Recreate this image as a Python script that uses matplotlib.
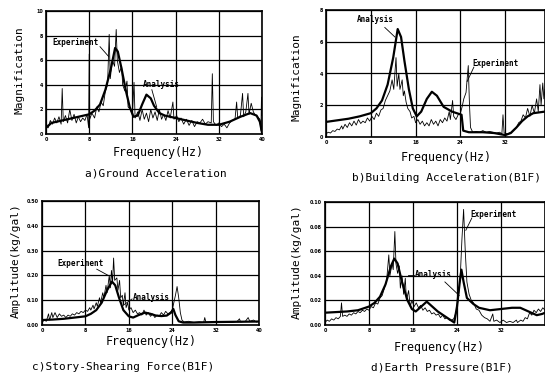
import numpy as np
import matplotlib
matplotlib.use('Agg')
import matplotlib.pyplot as plt

MONO = 'DejaVu Sans Mono'

# a) Ground Acceleration
a_exp_x = [0.0, 0.4, 0.8, 1.2, 1.6, 2.0, 2.4, 2.8, 3.0, 3.2, 3.6, 4.0, 4.4, 4.8, 5.2, 5.6, 6.0, 6.4, 6.8, 7.2,
           7.6, 7.9, 8.0, 8.1, 8.5, 9.0, 9.4, 9.8, 10.2, 10.6, 11.0, 11.4, 11.7, 11.9, 12.3, 12.7, 13.0, 13.2, 13.6, 14.0,
           14.2, 14.6, 15.0, 15.2, 15.6, 16.0, 16.3, 16.5, 17.0, 17.4, 17.8, 18.2, 18.6, 19.0, 19.4, 19.8, 20.2, 20.6, 21.0, 21.4,
           21.8, 22.2, 22.6, 23.0, 23.5, 23.7, 24.2, 24.6, 25.0, 25.5, 26.0, 26.5, 27.0, 27.5, 28.0, 28.5, 29.0, 29.5, 30.0, 30.6,
           30.8, 31.0, 31.5, 32.0, 32.5, 33.0, 33.5, 34.0, 34.5, 35.0, 35.3, 35.5, 36.0, 36.4, 36.6, 37.0, 37.4, 37.6, 38.0, 38.4,
           38.8, 39.2, 39.6, 39.8, 39.9, 40.0]
a_exp_y = [0.9, 0.5, 1.1, 0.8, 1.3, 0.9, 1.4, 0.8, 3.7, 1.0, 1.5, 0.9, 2.0, 1.1, 1.6, 0.9, 1.4, 1.0, 1.3, 1.1,
           1.6, 0.5, 6.5, 1.2, 1.7, 1.3, 2.2, 1.8, 2.6, 2.3, 3.5, 4.0, 8.1, 4.5, 6.0, 5.5, 8.5, 6.0, 5.0, 5.5,
           4.0, 3.5, 4.3, 2.2, 2.0, 1.6, 4.2, 1.3, 1.8, 1.1, 2.0, 1.2, 1.7, 1.0, 2.0, 1.3, 1.8, 1.1, 2.0, 1.2,
           1.6, 1.1, 1.9, 1.3, 2.6, 1.2, 1.5, 1.0, 1.3, 0.8, 1.2, 0.7, 1.1, 0.6, 1.0, 0.9, 1.2, 0.8, 1.0, 0.9,
           4.9, 1.0, 0.7, 0.9, 0.6, 0.8, 0.5, 0.9, 1.1, 1.2, 2.6, 1.3, 1.5, 3.3, 1.4, 1.8, 3.3, 1.6, 2.5, 1.8,
           1.5, 1.4, 1.2, 0.3, 3.0, 1.5]
a_ana_x = [0, 1, 2, 4, 6, 8, 9, 10, 11, 12, 12.8, 13.3, 14, 14.8, 15.5, 16.2, 17, 17.8, 18.6, 19.4,
           20, 21, 22, 24, 26, 28, 30, 32, 34, 36, 37.8, 39, 39.6, 40]
a_ana_y = [0.5, 0.9, 1.0, 1.2, 1.4, 1.6, 1.9, 2.4, 3.6, 5.3, 7.0, 6.7, 5.3, 3.5, 2.2, 1.4, 1.5, 2.4, 3.2, 2.9,
           2.3, 1.7, 1.5, 1.3, 1.1, 0.9, 0.75, 0.75, 1.0, 1.4, 1.7, 1.5, 1.0, 0.1]

# b) Building Acceleration (B1F)
b_exp_x = [0.0, 0.4, 0.8, 1.2, 1.6, 2.0, 2.4, 2.8, 3.0, 3.4, 3.8, 4.2, 4.6, 5.0, 5.4, 5.8, 6.2, 6.6, 7.0, 7.4,
           7.8, 8.2, 8.6, 9.0, 9.4, 9.8, 10.2, 10.6, 11.0, 11.4, 11.8, 12.1, 12.5, 12.7, 13.0, 13.2, 13.6, 13.8, 14.0, 14.3,
           14.6, 15.0, 15.3, 15.7, 16.0, 16.4, 16.8, 17.2, 17.6, 18.0, 18.4, 18.8, 19.2, 19.6, 20.0, 20.4, 20.8, 21.2, 21.6, 22.0,
           22.2, 22.6, 22.8, 23.2, 23.6, 24.0, 24.3, 24.6, 25.0, 25.4, 25.6, 25.8, 26.2, 26.8, 27.4, 28.0, 28.6, 29.2, 29.8, 30.4,
           31.0, 31.4, 31.6, 31.8, 32.4, 33.0, 33.6, 34.0, 34.4, 34.8, 35.2, 35.6, 36.0, 36.4, 36.8, 37.2, 37.6, 37.9, 38.2, 38.4,
           38.7, 38.9, 39.1]
b_exp_y = [0.2, 0.3, 0.25, 0.4, 0.35, 0.5, 0.45, 0.7, 0.5, 0.8, 0.6, 0.9, 0.7, 1.0, 0.75, 1.1, 0.85, 1.0, 0.9, 1.2,
           1.0, 1.3, 1.1, 1.5, 1.3, 1.7, 1.8, 2.3, 2.6, 2.9, 3.6, 3.0, 5.0, 3.2, 4.0, 3.0, 3.6, 2.6, 2.9, 2.2,
           1.8, 1.6, 1.2, 1.3, 0.9, 1.1, 0.8, 1.0, 0.7, 0.9, 0.7, 1.1, 0.8, 1.0, 0.7, 1.1, 0.9, 1.2, 1.0, 1.6,
           1.1, 2.3, 1.3, 1.1, 1.4, 1.5, 1.9, 2.4, 2.8, 4.5, 2.2, 0.6, 0.3, 0.35, 0.3, 0.4, 0.3, 0.35, 0.3, 0.25,
           0.3, 0.2, 1.4, 0.25, 0.2, 0.3, 0.5, 0.6, 0.9, 1.0, 1.4, 1.2, 1.8, 1.3, 2.0, 1.5, 2.4, 1.6, 3.3, 2.0,
           3.4, 2.4, 3.0]
b_ana_x = [0, 2, 4, 6, 8, 9, 10, 11, 12, 12.8, 13.4, 14, 14.8, 15.5, 16.2, 17, 18, 18.9, 19.8, 21,
           22.5, 24.2, 24.5, 25.5, 28, 30, 32, 33, 34, 35, 36, 37, 39.1]
b_ana_y = [0.95, 1.05, 1.15, 1.3, 1.5, 1.8, 2.3, 3.3, 5.0, 6.8, 6.3, 4.8, 3.0, 1.8, 1.3, 1.6, 2.4, 2.85, 2.6, 1.9,
           1.6, 1.4, 0.4, 0.3, 0.3, 0.25, 0.12, 0.25, 0.6, 1.0, 1.3, 1.5, 1.6]

# c) Story-Shearing Force (B1F)
c_exp_x = [0.0, 0.4, 0.8, 1.2, 1.4, 1.8, 2.0, 2.4, 2.8, 3.2, 3.6, 4.0, 4.4, 4.8, 5.2, 5.6, 6.0, 6.4, 6.8, 7.2,
           7.6, 8.0, 8.4, 8.8, 9.0, 9.4, 9.6, 10.0, 10.2, 10.6, 10.8, 11.2, 11.4, 11.8, 12.0, 12.4, 12.6, 12.8, 13.0, 13.2,
           13.4, 13.8, 14.0, 14.3, 14.5, 14.8, 15.0, 15.3, 15.5, 15.8, 16.0, 16.4, 16.8, 17.2, 17.6, 18.0, 18.4, 18.8, 19.2, 19.6,
           20.0, 20.4, 20.8, 21.2, 21.6, 22.0, 22.4, 22.8, 23.2, 23.6, 24.0, 24.3, 24.6, 24.9, 25.2, 25.5, 25.8, 26.2, 27.0, 28.0,
           29.0, 29.8, 30.0, 30.2, 31.0, 32.0, 33.0, 34.0, 35.0, 36.0, 36.4, 36.6, 37.5, 38.0, 38.3, 39.0, 39.5, 40.0]
c_exp_y = [0.01, 0.02, 0.015, 0.045, 0.02, 0.05, 0.03, 0.05, 0.03, 0.045, 0.035, 0.04, 0.03, 0.04, 0.035, 0.045, 0.04, 0.05, 0.045, 0.055,
           0.05, 0.06, 0.055, 0.07, 0.06, 0.08, 0.065, 0.09, 0.075, 0.11, 0.09, 0.13, 0.11, 0.16, 0.13, 0.2, 0.15, 0.22, 0.17, 0.27,
           0.18, 0.19, 0.14, 0.18, 0.11, 0.12, 0.08, 0.13, 0.07, 0.09, 0.06, 0.07, 0.05, 0.06, 0.045, 0.05, 0.04, 0.06, 0.04, 0.05,
           0.035, 0.045, 0.03, 0.04, 0.035, 0.05, 0.04, 0.055, 0.045, 0.05, 0.06, 0.09, 0.12, 0.155, 0.11, 0.05, 0.02, 0.012, 0.015, 0.01,
           0.013, 0.01, 0.03, 0.012, 0.01, 0.012, 0.01, 0.012, 0.01, 0.015, 0.025, 0.012, 0.015, 0.03, 0.015, 0.02, 0.012, 0.015]
c_ana_x = [0, 2, 4, 6, 8, 9, 10, 11, 12, 12.9, 13.5, 14.2, 15, 16, 16.8, 17.8, 19, 20, 21, 22,
           23, 23.8, 24.2, 24.6, 25.2, 26, 28, 32, 36, 40]
c_ana_y = [0.02, 0.022, 0.025, 0.03, 0.035, 0.045, 0.06, 0.09, 0.14, 0.175, 0.16, 0.11, 0.06, 0.035, 0.03, 0.04, 0.05, 0.045, 0.038, 0.036,
           0.038, 0.05, 0.065, 0.04, 0.015, 0.01, 0.01, 0.012, 0.013, 0.014]

# d) Earth Pressure (B1F)
d_exp_x = [0.0, 0.4, 0.8, 1.2, 1.6, 2.0, 2.4, 2.8, 3.0, 3.2, 3.6, 4.0, 4.4, 4.8, 5.2, 5.6, 6.0, 6.4, 6.8, 7.2,
           7.6, 8.0, 8.4, 8.8, 9.2, 9.6, 10.0, 10.4, 10.8, 11.2, 11.6, 11.8, 12.2, 12.4, 12.7, 12.9, 13.2, 13.5, 13.7, 14.0,
           14.3, 14.6, 14.8, 15.2, 15.5, 15.8, 16.2, 16.6, 17.0, 17.4, 17.8, 18.2, 18.6, 19.0, 19.4, 19.8, 20.2, 20.6, 21.0, 21.4,
           21.8, 22.2, 22.6, 23.0, 23.4, 23.8, 24.2, 24.6, 24.9, 25.2, 25.5, 25.8, 26.2, 26.6, 27.0, 27.5, 28.0, 28.5, 29.0, 29.5,
           30.0, 30.5, 30.7, 31.2, 31.8, 32.4, 33.0, 33.6, 34.2, 34.8, 35.0, 35.6, 36.0, 36.4, 36.8, 37.2, 37.6, 38.0, 38.4, 38.8,
           39.2, 39.6, 40.0]
d_exp_y = [0.002, 0.004, 0.003, 0.005, 0.004, 0.006, 0.005, 0.007, 0.018, 0.007, 0.008, 0.007, 0.009, 0.008, 0.010, 0.009, 0.011, 0.010, 0.012, 0.011,
           0.013, 0.012, 0.015, 0.014, 0.018, 0.017, 0.022, 0.024, 0.03, 0.036, 0.057, 0.04, 0.05, 0.045, 0.076, 0.05, 0.042, 0.048, 0.03, 0.04,
           0.025, 0.038, 0.02, 0.028, 0.015, 0.02, 0.015, 0.018, 0.014, 0.016, 0.012, 0.014, 0.011, 0.012, 0.009, 0.010, 0.008, 0.009, 0.006, 0.008,
           0.005, 0.006, 0.004, 0.004, 0.005, 0.01, 0.02, 0.04, 0.07, 0.094, 0.06, 0.035, 0.025, 0.02, 0.018, 0.013, 0.012, 0.008, 0.006, 0.005,
           0.003, 0.009, 0.003, 0.004, 0.002, 0.004, 0.002, 0.003, 0.002, 0.004, 0.002, 0.004, 0.003, 0.006, 0.005, 0.010, 0.008, 0.012, 0.010, 0.013,
           0.011, 0.014, 0.012]
d_ana_x = [0, 2, 4, 6, 8, 9, 10, 11, 12, 12.6, 13.2, 14, 15, 15.8, 16.5, 17.5, 18.5, 19.5, 20.5, 21.5,
           22.5, 23.5, 24.0, 24.5, 24.8, 25.2, 25.8, 27, 28, 30, 32, 34, 35.5, 37, 38.5, 39.5, 40]
d_ana_y = [0.01, 0.0105, 0.011, 0.012, 0.015, 0.018, 0.023, 0.033, 0.048, 0.054, 0.05, 0.035, 0.02, 0.013, 0.011, 0.015, 0.019, 0.015, 0.011, 0.008,
           0.005, 0.002, 0.015, 0.035, 0.045, 0.035, 0.022, 0.017, 0.014, 0.012, 0.013, 0.014, 0.014, 0.011, 0.008, 0.009, 0.010]

x_ticks_full = [0, 8, 16, 24, 32, 40]
x_ticks_cut = [0, 8, 16, 24, 32]


def style_axes(ax, xmax, ymax, xticks, yticks, yfmt):
    ax.set_xlim(0, xmax)
    ax.set_ylim(0, ymax)
    ax.set_xticks(xticks)
    ax.set_xticklabels([str(t) for t in xticks])
    ax.set_yticks(yticks)
    ax.set_yticklabels([yfmt.format(t) for t in yticks])
    ax.tick_params(length=0, labelsize=3.5, pad=2)
    for lab in ax.get_xticklabels() + ax.get_yticklabels():
        lab.set_fontweight('bold')
    ax.grid(True, color='black', linewidth=0.9)
    for sp in ax.spines.values():
        sp.set_linewidth(1.2)


def plot_panel(ax, ex, ey, axx, ay):
    ax.plot(ex, ey, color='black', linewidth=0.6)
    ax.plot(axx, ay, color='black', linewidth=1.6)


def label(ax, text, xy, tail, head):
    ax.text(xy[0], xy[1], text, fontsize=5.5, family=MONO, fontweight='bold', va='center', ha='left')
    ax.plot([tail[0], head[0]], [tail[1], head[1]], color='black', linewidth=0.6)


fig = plt.figure(figsize=(5.45, 3.75), dpi=100)
W, H = 545.0, 375.0


def px_axes(left, top, right, bottom):
    return fig.add_axes([left / W, 1 - bottom / H, (right - left) / W, (bottom - top) / H])


ax_a = px_axes(46, 11, 262, 134)
ax_b = px_axes(326, 10, 545, 137)
ax_c = px_axes(42, 201, 259, 325)
ax_d = px_axes(325, 202, 545, 325)

plot_panel(ax_a, a_exp_x, a_exp_y, a_ana_x, a_ana_y)
style_axes(ax_a, 40, 10, x_ticks_full, [0, 2, 4, 6, 8, 10], '{:g}')
label(ax_a, 'Experiment', (1.1, 7.4), (10.0, 7.1), (11.6, 6.3))
label(ax_a, 'Analysis', (18.0, 4.0), (19.6, 3.6), (20.5, 2.2))
ax_a.plot([15.4, 17.3], [4.0, 4.0], color='black', linewidth=0.6)
ax_a.plot([25.5, 29.1], [4.0, 4.0], color='black', linewidth=0.6)

plot_panel(ax_b, b_exp_x, b_exp_y, b_ana_x, b_ana_y)
style_axes(ax_b, 39.1, 8, x_ticks_cut, [0, 2, 4, 6, 8], '{:g}')
label(ax_b, 'Analysis', (5.5, 7.4), (10.5, 6.9), (12.3, 6.3))
label(ax_b, 'Experiment', (26.1, 4.65), (26.4, 4.4), (25.2, 3.5))

plot_panel(ax_c, c_exp_x, c_exp_y, c_ana_x, c_ana_y)
style_axes(ax_c, 40, 0.5, x_ticks_full, [0, 0.1, 0.2, 0.3, 0.4, 0.5], '{:.2f}')
label(ax_c, 'Experiment', (2.8, 0.25), (10.1, 0.225), (12.2, 0.2))
label(ax_c, 'Analysis', (16.8, 0.11), (16.6, 0.105), (15.0, 0.08))

plot_panel(ax_d, d_exp_x, d_exp_y, d_ana_x, d_ana_y)
style_axes(ax_d, 40, 0.1, x_ticks_cut, [0, 0.02, 0.04, 0.06, 0.08, 0.10], '{:.2f}')
label(ax_d, 'Experiment', (26.5, 0.090), (26.7, 0.087), (25.6, 0.077))
label(ax_d, 'Analysis', (16.4, 0.041), (21.8, 0.035), (24.4, 0.024))
ax_d.plot([15.0, 16.2], [0.041, 0.041], color='black', linewidth=0.6)

# axis labels and captions in pixel coordinates
texts = [
    (158, 153, 'Frequency(Hz)', 0), (156, 173, 'a)Ground Acceleration', 0), (20, 70, 'Magnification', 90),
    (446, 157, 'Frequency(Hz)', 0), (447, 178, 'b)Building Acceleration(B1F)', 0), (297, 77, 'Magnification', 90),
    (151, 342, 'Frequency(Hz)', 0), (123, 367, 'c)Story-Shearing Force(B1F)', 0), (16, 261, 'Amplitude(kg/gal)', 90),
    (439, 348, 'Frequency(Hz)', 0), (442, 367, 'd)Earth Pressure(B1F)', 0), (297, 262, 'Amplitude(kg/gal)', 90),
]
for x, y, s, rot in texts:
    size = 8.4 if rot == 0 and s.startswith('Freq') else 8.0
    fig.text(x / W, 1 - y / H, s, family=MONO, fontsize=size, rotation=rot, ha='center', va='center')

fig.savefig('out.png', dpi=100)
